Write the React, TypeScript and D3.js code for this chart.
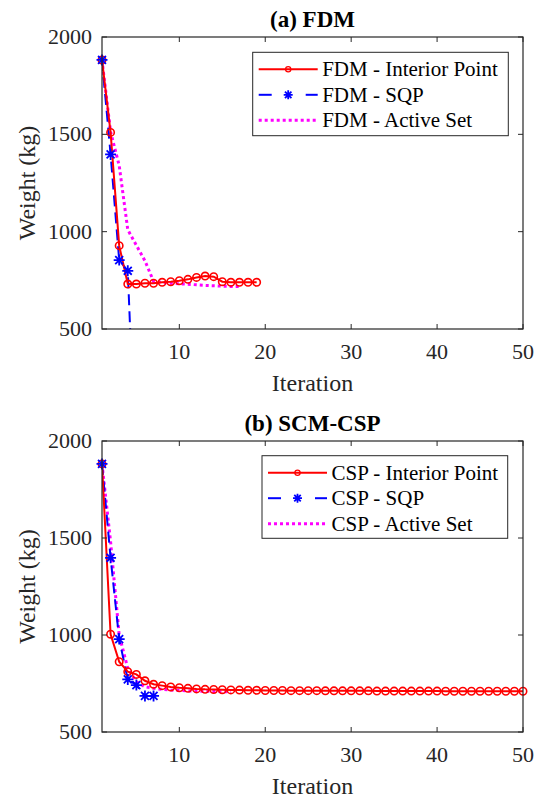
import React from "react";
import * as d3 from "d3";

const xTicks = [10, 20, 30, 40, 50];
const yTicks = [500, 1000, 1500, 2000];

const fdmInterior = [1882, 1510, 928, 731, 731, 735, 735, 740, 743, 748, 755, 765, 772, 769, 743, 740, 740, 740, 740];
const fdmSQP = [1882, 1397, 854, 799, -280];
const fdmActive = [1882, 1513, 1340, 1010, 930, 850, 745, 740, 735, 732, 730, 727, 724, 722, 720, 718, 718];

const cspInterior = [1882, 1004, 862, 811, 797, 764, 746, 739, 732, 728, 725, 722, 720, 719, 718, 717, 716, 715, 715, 714, 714, 714, 713, 713, 713, 713, 712, 712, 712, 712, 712, 712, 711, 711, 711, 711, 711, 711, 711, 711, 710, 710, 710, 710, 710, 710, 710, 710, 710, 710];
const cspSQP = [1882, 1398, 979, 771, 742, 686, 686];
const cspActive = [1882, 1480, 1000, 828, 759, 733, 725, 720, 716, 714, 712, 711, 710, 709, 708, 708];

const FONT = "'Liberation Serif', serif";
const AX = "#262626";

type PanelProps = {
  id: string;
  title: string;
  top: number;
  bottom: number;
  prefix: string;
  interior: number[];
  sqp: number[];
  active: number[];
  legend: { x0: number; y0: number; x1: number; y1: number };
};

function Star({ cx, cy, r }: { cx: number; cy: number; r: number }) {
  const d = r * 0.72;
  return (
    <path
      d={`M${cx - r},${cy}L${cx + r},${cy}M${cx},${cy - r}L${cx},${cy + r}M${cx - d},${cy - d}L${cx + d},${cy + d}M${cx - d},${cy + d}L${cx + d},${cy - d}`}
      stroke="#0000ff"
      strokeWidth={1.8}
      fill="none"
    />
  );
}

function Panel(p: PanelProps) {
  const left = 102;
  const right = 523;
  const x = d3.scaleLinear().domain([1, 50]).range([left, right]);
  const y = d3.scaleLinear().domain([500, 2000]).range([p.bottom, p.top]);
  const line = d3
    .line<number>()
    .x((_, i) => x(i + 1))
    .y((v) => y(v));
  const inside = (v: number) => v >= 500 && v <= 2000;
  const tl = 5;
  const lg = p.legend;
  const rows = [lg.y0 + 17, lg.y0 + 17 + 25.5, lg.y0 + 17 + 51];
  const sx0 = lg.x0 + 6;
  const sx1 = sx0 + 59;
  const tx = sx1 + 4.5;
  return (
    <g>
      <defs>
        <clipPath id={p.id}>
          <rect x={left} y={p.top} width={right - left} height={p.bottom - p.top} />
        </clipPath>
      </defs>
      <rect x={left} y={p.top} width={right - left} height={p.bottom - p.top} fill="#fff" />
      <text x={(left + right) / 2} y={p.top - 10} textAnchor="middle" style={{ fontFamily: FONT, fontWeight: "bold", fontSize: 23 }} fill="#000">
        {p.title}
      </text>
      <g clipPath={`url(#${p.id})`}>
        <path d={line(p.active) || ""} fill="none" stroke="#ff00ff" strokeWidth={3} strokeDasharray="3,3" />
        <path d={line(p.sqp) || ""} fill="none" stroke="#0000ff" strokeWidth={2} strokeDasharray="11,6" />
        <path d={line(p.interior) || ""} fill="none" stroke="#ff0000" strokeWidth={2} />
      </g>
      {p.interior.map((v, i) =>
        inside(v) ? <circle key={"c" + i} cx={x(i + 1)} cy={y(v)} r={3.7} fill="none" stroke="#ff0000" strokeWidth={1.6} /> : null
      )}
      {p.sqp.map((v, i) => (inside(v) ? <Star key={"s" + i} cx={x(i + 1)} cy={y(v)} r={5.5} /> : null))}
      <rect x={left} y={p.top} width={right - left} height={p.bottom - p.top} fill="none" stroke={AX} strokeWidth={1.2} />
      {xTicks.map((t) => (
        <g key={"xt" + t}>
          <line x1={x(t)} x2={x(t)} y1={p.bottom} y2={p.bottom - tl} stroke={AX} strokeWidth={1} />
          <line x1={x(t)} x2={x(t)} y1={p.top} y2={p.top + tl} stroke={AX} strokeWidth={1} />
          <text x={x(t)} y={p.bottom + 30} textAnchor="middle" style={{ fontFamily: FONT, fontSize: 22 }} fill={AX}>
            {t}
          </text>
        </g>
      ))}
      {yTicks.map((t) => (
        <g key={"yt" + t}>
          <line x1={left} x2={left + tl} y1={y(t)} y2={y(t)} stroke={AX} strokeWidth={1} />
          <line x1={right} x2={right - tl} y1={y(t)} y2={y(t)} stroke={AX} strokeWidth={1} />
          <text x={left - 10} y={y(t) + 7} textAnchor="end" style={{ fontFamily: FONT, fontSize: 22 }} fill={AX}>
            {t}
          </text>
        </g>
      ))}
      <text x={(left + right) / 2} y={p.bottom + 62} textAnchor="middle" style={{ fontFamily: FONT, fontSize: 24 }} fill={AX}>
        Iteration
      </text>
      <text
        transform={`translate(${35},${(p.top + p.bottom) / 2}) rotate(-90)`}
        textAnchor="middle"
        style={{ fontFamily: FONT, fontSize: 24 }}
        fill={AX}
      >
        Weight (kg)
      </text>
      <rect x={lg.x0} y={lg.y0} width={lg.x1 - lg.x0} height={lg.y1 - lg.y0} fill="#fff" stroke={AX} strokeWidth={1} />
      <line x1={sx0} x2={sx1} y1={rows[0]} y2={rows[0]} stroke="#ff0000" strokeWidth={2} />
      <circle cx={(sx0 + sx1) / 2} cy={rows[0]} r={2.6} fill="none" stroke="#ff0000" strokeWidth={1.3} />
      <line x1={sx0} x2={sx0 + 13} y1={rows[1]} y2={rows[1]} stroke="#0000ff" strokeWidth={2} />
      <line x1={sx1 - 12} x2={sx1} y1={rows[1]} y2={rows[1]} stroke="#0000ff" strokeWidth={2} />
      <Star cx={(sx0 + sx1) / 2} cy={rows[1]} r={4.5} />
      <line x1={sx0} x2={sx1 - 2} y1={rows[2]} y2={rows[2]} stroke="#ff00ff" strokeWidth={3} strokeDasharray="3,3" />
      {[" - Interior Point", " - SQP", " - Active Set"].map((s, i) => (
        <text key={"lt" + i} x={tx} y={rows[i] + 7} style={{ fontFamily: FONT, fontSize: 21 }} fill="#000">
          {p.prefix + s}
        </text>
      ))}
    </g>
  );
}

export default function App() {
  return (
    <svg width={545} height={800} style={{ position: "absolute", left: 0, top: 0, background: "#fff" }}>
      <rect width={545} height={800} fill="#fff" />
      <Panel
        id="clipA"
        title="(a) FDM"
        top={37}
        bottom={329}
        prefix="FDM"
        interior={fdmInterior}
        sqp={fdmSQP}
        active={fdmActive}
        legend={{ x0: 252.7, y0: 52.3, x1: 508.3, y1: 135.7 }}
      />
      <Panel
        id="clipB"
        title="(b) SCM-CSP"
        top={441}
        bottom={732}
        prefix="CSP"
        interior={cspInterior}
        sqp={cspSQP}
        active={cspActive}
        legend={{ x0: 262, y0: 455.7, x1: 507.7, y1: 538.3 }}
      />
    </svg>
  );
}
